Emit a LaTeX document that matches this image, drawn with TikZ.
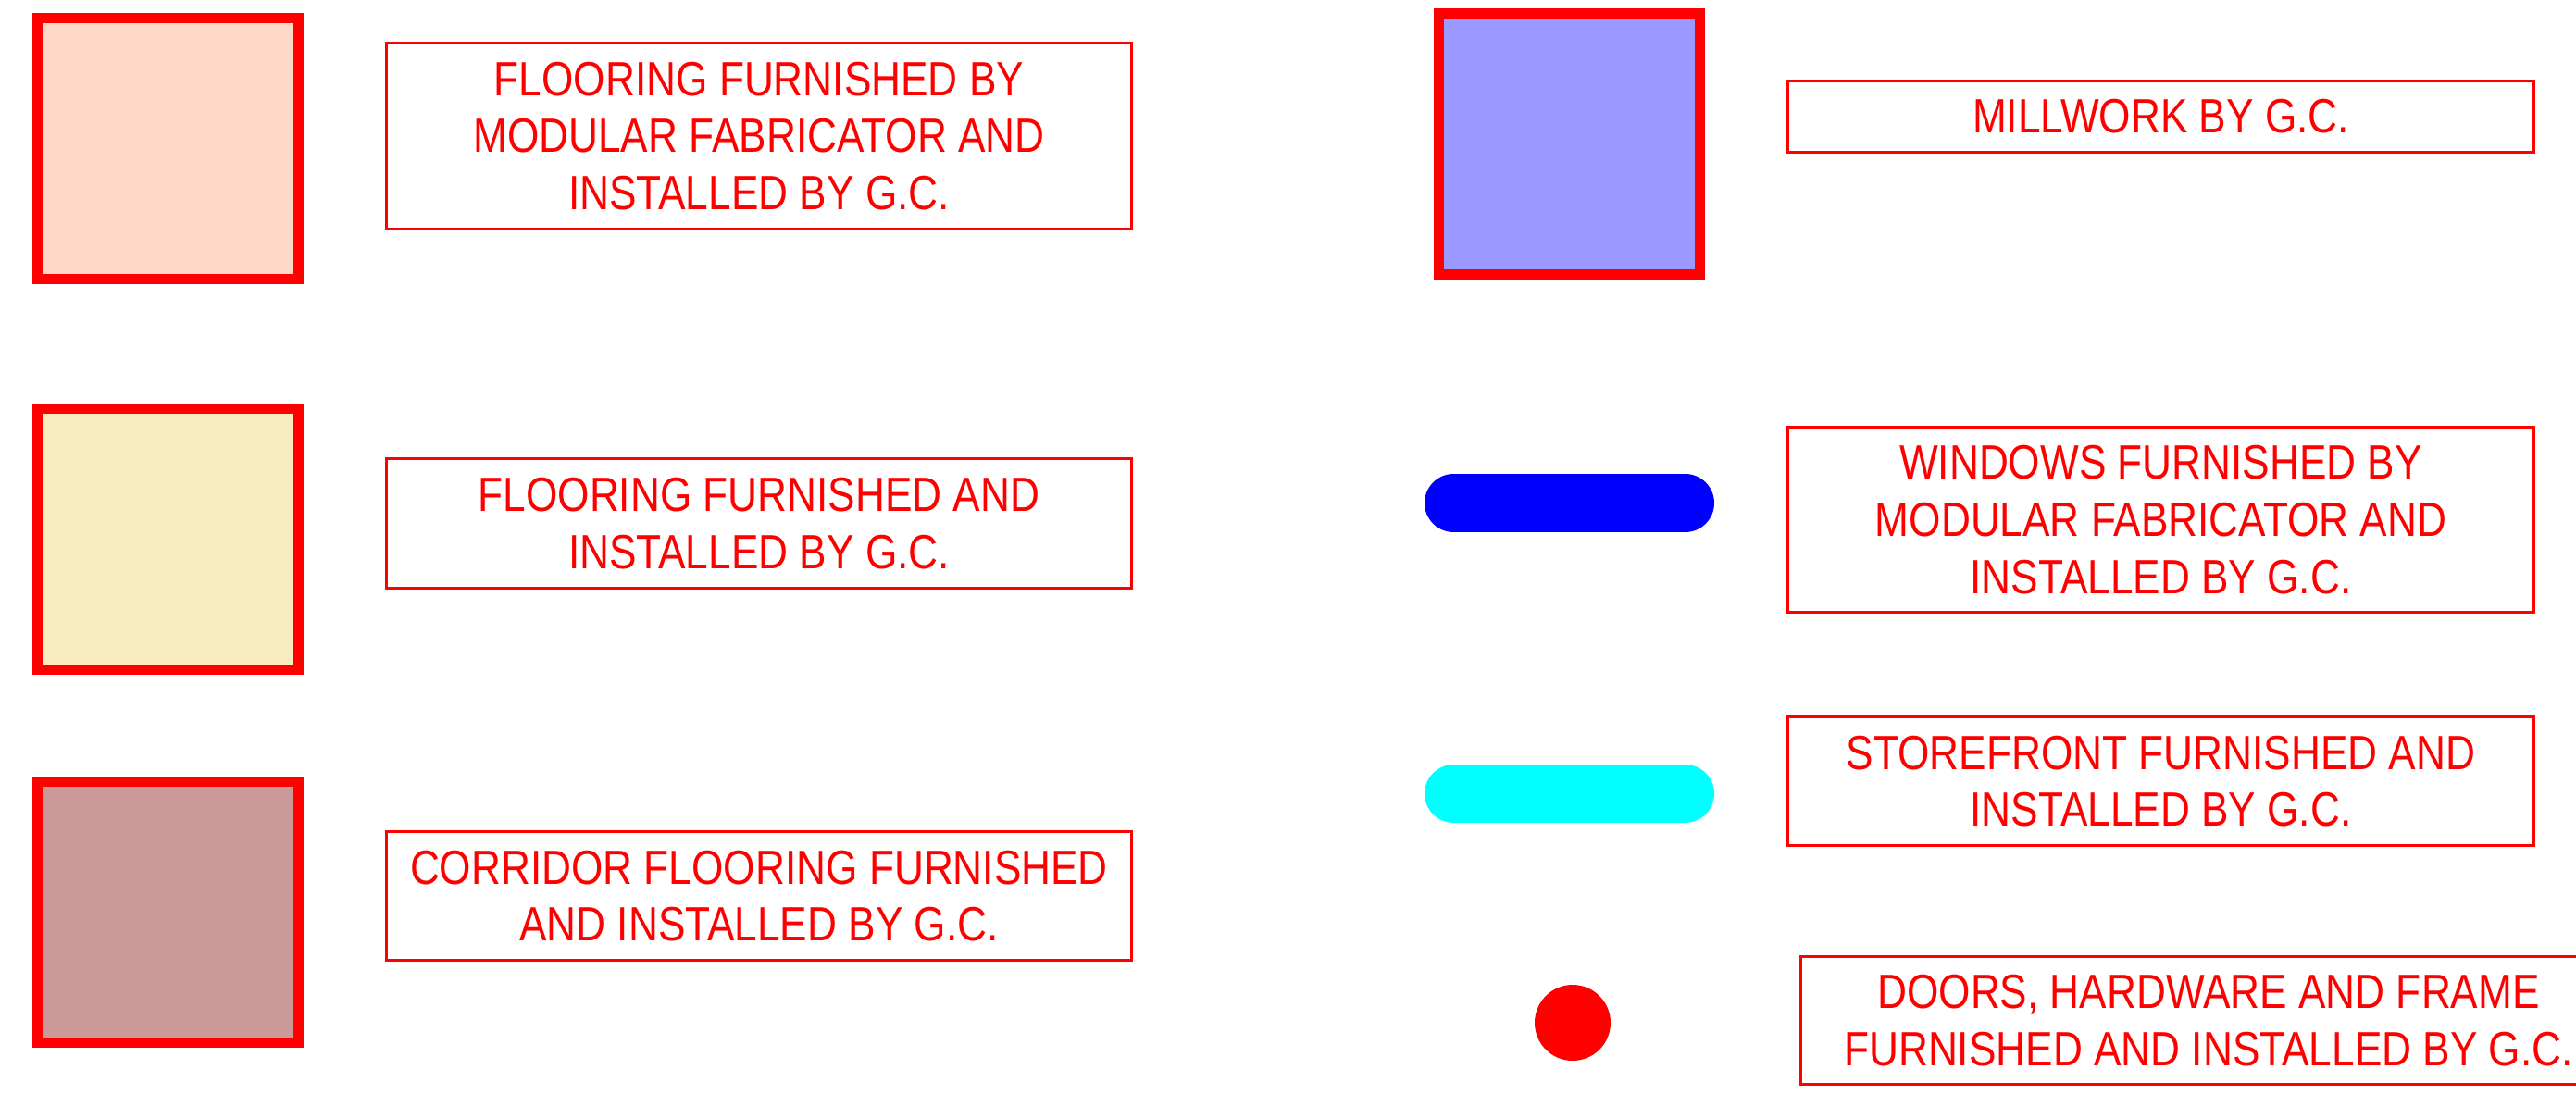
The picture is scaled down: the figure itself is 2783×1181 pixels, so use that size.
\documentclass[tikz,border=0pt]{standalone}
\usepackage{fontspec}
\setmainfont{Liberation Sans}[FakeStretch=0.85]
\definecolor{peach}{RGB}{255,217,199}
\definecolor{cream}{RGB}{249,237,192}
\definecolor{mauve}{RGB}{204,153,153}
\definecolor{lilac}{RGB}{153,153,255}
\definecolor{aqua}{RGB}{0,255,255}

\begin{document}
\begin{tikzpicture}[x=0.25pt,y=-0.25pt,
	swatch/.style={draw=red, line width=2.75pt, minimum width=70.6pt, minimum height=70.5pt, inner sep=0pt},
	notebox/.style={draw=red, line width=0.75pt, text=red, align=center, inner sep=0pt,
		font=\fontsize{13pt}{15.4pt}\selectfont},
	bar/.style={line width=15.75pt, line cap=round}]
	\useasboundingbox (0,0) rectangle (2783,1181);
	\clip (0,0) rectangle (2783,1181);

	% left column
	\node[swatch, fill=peach] (sqA) at (181.75,160.5) {};
	\node[swatch, fill=cream] (sqB) at (181.75,582.5) {};
	\node[swatch, fill=mauve] (sqC) at (181.75,985.5) {};
	\node[notebox, minimum width=201.25pt, minimum height=50.25pt] (txtA) at (820,147)
		{FLOORING FURNISHED BY\\MODULAR FABRICATOR AND\\INSTALLED BY G.C.};
	\node[notebox, minimum width=201.25pt, minimum height=35pt] (txtB) at (820,565.5)
		{FLOORING FURNISHED AND\\INSTALLED BY G.C.};
	\node[notebox, minimum width=201.25pt, minimum height=34.75pt] (txtC) at (820,968)
		{CORRIDOR FLOORING FURNISHED\\AND INSTALLED BY G.C.};

	% right column
	\node[swatch, fill=lilac] (sqM) at (1695.5,155.5) {};
	\coordinate (winL) at (1570.5,543.5);
	\coordinate (winR) at (1820.5,543.5);
	\draw[bar, blue] (winL) -- (winR);
	\coordinate (stoL) at (1570.5,857.5);
	\coordinate (stoR) at (1820.5,857.5);
	\draw[bar, aqua] (stoL) -- (stoR);
	\node[circle, fill=red, minimum size=20.5pt, inner sep=0pt] (door) at (1699,1105) {};
	\node[notebox, minimum width=201.5pt, minimum height=19.25pt] (txtM) at (2334.5,126)
		{MILLWORK BY G.C.};
	\node[notebox, minimum width=201.5pt, minimum height=50pt] (txtW) at (2334.5,561.5)
		{WINDOWS FURNISHED BY\\MODULAR FABRICATOR AND\\INSTALLED BY G.C.};
	\node[notebox, minimum width=201.5pt, minimum height=34.75pt] (txtS) at (2334.5,844)
		{STOREFRONT FURNISHED AND\\INSTALLED BY G.C.};
	\node[notebox, minimum width=220.25pt, minimum height=34.5pt] (txtD) at (2386,1102.5)
		{DOORS, HARDWARE AND FRAME\\FURNISHED AND INSTALLED BY G.C.};
\end{tikzpicture}
\end{document}
